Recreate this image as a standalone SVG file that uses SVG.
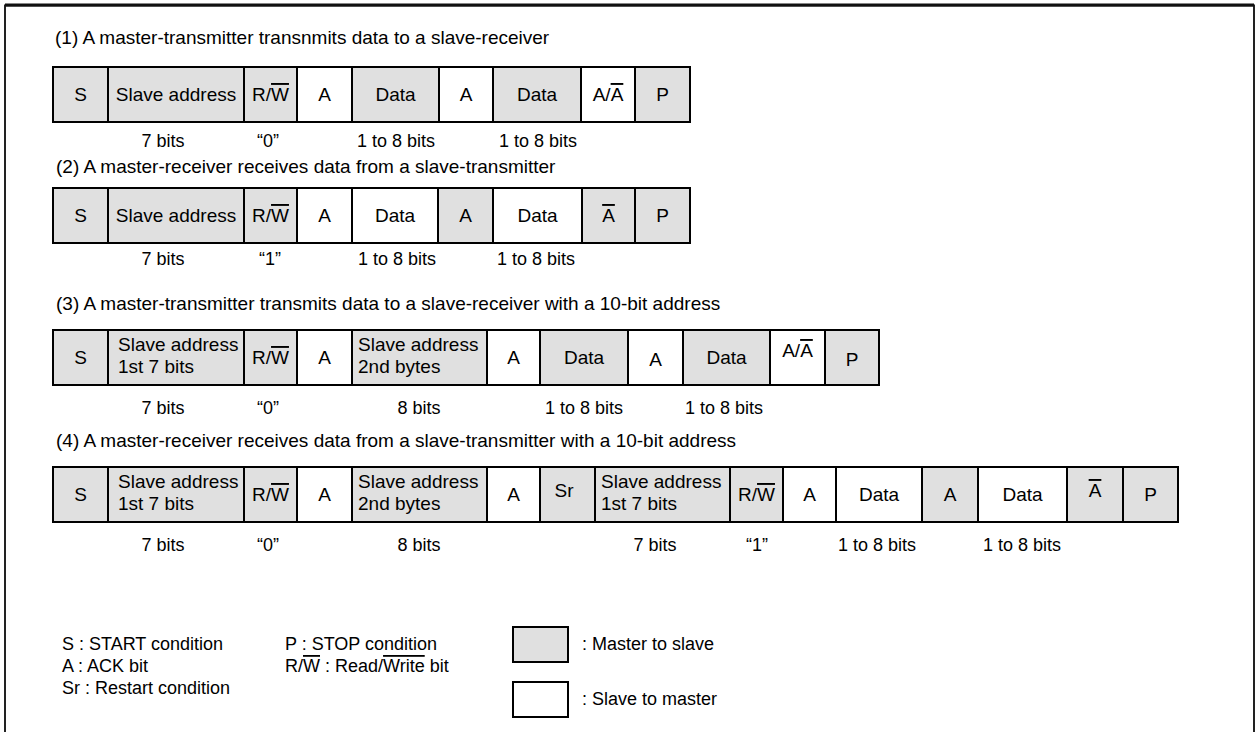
<svg xmlns="http://www.w3.org/2000/svg" width="1255" height="732" viewBox="0 0 1255 732">
<style>
text{font-family:"Liberation Sans",Arial,sans-serif;font-size:19px;fill:#000}
.c{text-anchor:middle}
.lb{font-size:18px}
.lg{font-size:18px}
.g{fill:#e0e0e0;stroke:#000;stroke-width:2}
.w{fill:#fff;stroke:#000;stroke-width:2}
.ov{text-decoration:overline}
</style>
<rect x="0" y="0" width="1255" height="732" fill="#fff"/>
<g id="frame">
<path d="M5,740 V5.5 H1254 V740" fill="none" stroke="#222" stroke-width="2"/>
<line x1="5" y1="5" x2="1254" y2="5" stroke="#111" stroke-width="3"/>
</g>

<!-- Row 1 -->
<g id="row1">
<text x="55" y="44">(1) A master-transmitter transnmits data to a slave-receiver</text>
<g id="r1-s"><rect class="g" x="53" y="67" width="55" height="55"/><text class="c" x="80.5" y="101">S</text></g>
<g id="r1-sa"><rect class="g" x="108" y="67" width="136" height="55"/><text class="c" x="176" y="101">Slave address</text></g>
<g id="r1-rw"><rect class="g" x="244" y="67" width="53" height="55"/><text class="c" x="270.5" y="101">R/<tspan class="ov">W</tspan></text></g>
<g id="r1-a1"><rect class="w" x="297" y="67" width="55" height="55"/><text class="c" x="324.5" y="101">A</text></g>
<g id="r1-d1"><rect class="g" x="352" y="67" width="87" height="55"/><text class="c" x="395.5" y="101">Data</text></g>
<g id="r1-a2"><rect class="w" x="439" y="67" width="54" height="55"/><text class="c" x="466" y="101">A</text></g>
<g id="r1-d2"><rect class="g" x="493" y="67" width="88" height="55"/><text class="c" x="537" y="101">Data</text></g>
<g id="r1-an"><rect class="w" x="581" y="67" width="54" height="55"/><text class="c" x="608" y="101">A/<tspan class="ov">A</tspan></text></g>
<g id="r1-p"><rect class="g" x="635" y="67" width="55" height="55"/><text class="c" x="662.5" y="101">P</text></g>
<text class="c lb" x="163" y="147">7 bits</text>
<text class="c lb" x="268" y="147">“0”</text>
<text class="c lb" x="396" y="147">1 to 8 bits</text>
<text class="c lb" x="538" y="147">1 to 8 bits</text>
</g>

<!-- Row 2 -->
<g id="row2">
<text x="56" y="173">(2) A master-receiver receives data from a slave-transmitter</text>
<g id="r2-s"><rect class="g" x="53" y="188" width="55" height="55"/><text class="c" x="80.5" y="222">S</text></g>
<g id="r2-sa"><rect class="g" x="108" y="188" width="136" height="55"/><text class="c" x="176" y="222">Slave address</text></g>
<g id="r2-rw"><rect class="g" x="244" y="188" width="53" height="55"/><text class="c" x="270.5" y="222">R/<tspan class="ov">W</tspan></text></g>
<g id="r2-a1"><rect class="w" x="297" y="188" width="55" height="55"/><text class="c" x="324.5" y="222">A</text></g>
<g id="r2-d1"><rect class="w" x="352" y="188" width="86" height="55"/><text class="c" x="395" y="222">Data</text></g>
<g id="r2-a2"><rect class="g" x="438" y="188" width="55" height="55"/><text class="c" x="465.5" y="222">A</text></g>
<g id="r2-d2"><rect class="w" x="493" y="188" width="89" height="55"/><text class="c" x="537.5" y="222">Data</text></g>
<g id="r2-an"><rect class="g" x="582" y="188" width="53" height="55"/><text class="c" x="608.5" y="222"><tspan class="ov">A</tspan></text></g>
<g id="r2-p"><rect class="g" x="635" y="188" width="55" height="55"/><text class="c" x="662.5" y="222">P</text></g>
<text class="c lb" x="163" y="265">7 bits</text>
<text class="c lb" x="270" y="265">“1”</text>
<text class="c lb" x="397" y="265">1 to 8 bits</text>
<text class="c lb" x="536" y="265">1 to 8 bits</text>
</g>

<!-- Row 3 -->
<g id="row3">
<text x="56" y="310">(3) A master-transmitter transmits data to a slave-receiver with a 10-bit address</text>
<g id="r3-s"><rect class="g" x="53" y="330" width="55" height="55"/><text class="c" x="80.5" y="364">S</text></g>
<g id="r3-sa1"><rect class="g" x="108" y="330" width="136" height="55"/><text x="118" y="351">Slave address</text><text x="118" y="373">1st 7 bits</text></g>
<g id="r3-rw"><rect class="g" x="244" y="330" width="53" height="55"/><text class="c" x="270.5" y="364">R/<tspan class="ov">W</tspan></text></g>
<g id="r3-a1"><rect class="w" x="297" y="330" width="55" height="55"/><text class="c" x="324.5" y="364">A</text></g>
<g id="r3-sa2"><rect class="g" x="352" y="330" width="135" height="55"/><text x="358" y="351">Slave address</text><text x="358" y="373">2nd bytes</text></g>
<g id="r3-a2"><rect class="w" x="487" y="330" width="53" height="55"/><text class="c" x="513.5" y="364">A</text></g>
<g id="r3-d1"><rect class="g" x="540" y="330" width="88" height="55"/><text class="c" x="584" y="364">Data</text></g>
<g id="r3-a3"><rect class="w" x="628" y="330" width="55" height="55"/><text class="c" x="655.5" y="366">A</text></g>
<g id="r3-d2"><rect class="g" x="683" y="330" width="87" height="55"/><text class="c" x="726.5" y="364">Data</text></g>
<g id="r3-an"><rect class="w" x="770" y="330" width="55" height="55"/><text class="c" x="797.5" y="357">A/<tspan class="ov">A</tspan></text></g>
<g id="r3-p"><rect class="g" x="825" y="330" width="54" height="55"/><text class="c" x="852" y="366">P</text></g>
<text class="c lb" x="163" y="414">7 bits</text>
<text class="c lb" x="268" y="414">“0”</text>
<text class="c lb" x="419" y="414">8 bits</text>
<text class="c lb" x="584" y="414">1 to 8 bits</text>
<text class="c lb" x="724" y="414">1 to 8 bits</text>
</g>

<!-- Row 4 -->
<g id="row4">
<text x="56" y="447">(4) A master-receiver receives data from a slave-transmitter with a 10-bit address</text>
<g id="r4-s"><rect class="g" x="53" y="467" width="55" height="55"/><text class="c" x="80.5" y="501">S</text></g>
<g id="r4-sa1"><rect class="g" x="108" y="467" width="136" height="55"/><text x="118" y="488">Slave address</text><text x="118" y="510">1st 7 bits</text></g>
<g id="r4-rw1"><rect class="g" x="244" y="467" width="53" height="55"/><text class="c" x="270.5" y="501">R/<tspan class="ov">W</tspan></text></g>
<g id="r4-a1"><rect class="w" x="297" y="467" width="55" height="55"/><text class="c" x="324.5" y="501">A</text></g>
<g id="r4-sa2"><rect class="g" x="352" y="467" width="135" height="55"/><text x="358" y="488">Slave address</text><text x="358" y="510">2nd bytes</text></g>
<g id="r4-a2"><rect class="w" x="487" y="467" width="53" height="55"/><text class="c" x="513.5" y="501">A</text></g>
<g id="r4-sr"><rect class="g" x="540" y="467" width="55" height="55"/><text class="c" x="564" y="497">Sr</text></g>
<g id="r4-sa3"><rect class="g" x="595" y="467" width="135" height="55"/><text x="601" y="488">Slave address</text><text x="601" y="510">1st 7 bits</text></g>
<g id="r4-rw2"><rect class="g" x="730" y="467" width="53" height="55"/><text class="c" x="756.5" y="501">R/<tspan class="ov">W</tspan></text></g>
<g id="r4-a3"><rect class="w" x="783" y="467" width="53" height="55"/><text class="c" x="809.5" y="501">A</text></g>
<g id="r4-d1"><rect class="w" x="836" y="467" width="86" height="55"/><text class="c" x="879" y="501">Data</text></g>
<g id="r4-a4"><rect class="g" x="922" y="467" width="56" height="55"/><text class="c" x="950" y="501">A</text></g>
<g id="r4-d2"><rect class="w" x="978" y="467" width="89" height="55"/><text class="c" x="1022.5" y="501">Data</text></g>
<g id="r4-an"><rect class="g" x="1067" y="467" width="56" height="55"/><text class="c" x="1095" y="497"><tspan class="ov">A</tspan></text></g>
<g id="r4-p"><rect class="g" x="1123" y="467" width="55" height="55"/><text class="c" x="1150.5" y="501">P</text></g>
<text class="c lb" x="163" y="551">7 bits</text>
<text class="c lb" x="268" y="551">“0”</text>
<text class="c lb" x="419" y="551">8 bits</text>
<text class="c lb" x="655" y="551">7 bits</text>
<text class="c lb" x="757" y="551">“1”</text>
<text class="c lb" x="877" y="551">1 to 8 bits</text>
<text class="c lb" x="1022" y="551">1 to 8 bits</text>
</g>

<!-- Legend -->
<g id="legend-text">
<text class="lg" x="62" y="650">S : START condition</text>
<text class="lg" x="62" y="672">A : ACK bit</text>
<text class="lg" x="62" y="694">Sr : Restart condition</text>
<text class="lg" x="285" y="650">P : STOP condition</text>
<text class="lg" x="285" y="672">R/<tspan class="ov">W</tspan> : Read/<tspan class="ov">Write</tspan> bit</text>
</g>
<g id="legend-m2s"><rect class="g" x="513" y="627" width="55" height="35"/><text class="lg" x="582" y="650">: Master to slave</text></g>
<g id="legend-s2m"><rect class="w" x="513" y="682" width="55" height="35"/><text class="lg" x="582" y="705">: Slave to master</text></g>
</svg>
